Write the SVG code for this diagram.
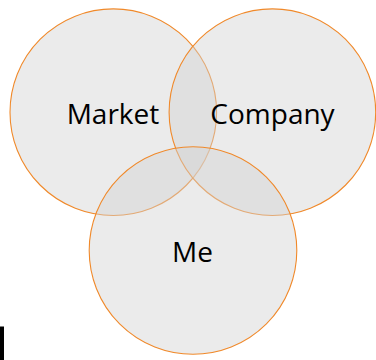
<svg xmlns="http://www.w3.org/2000/svg" width="376" height="360" viewBox="0 0 376 360">
<style>
.c{fill:#d3d3d3;fill-opacity:0.45;stroke:#f0892a;stroke-width:1.1}
.t{font-family:"Open Sans","Noto Sans",sans-serif;font-size:28px;fill:#000;text-anchor:middle}
</style>
<rect width="376" height="360" fill="#fff"/>
<g id="market"><circle class="c" cx="113.3" cy="112.2" r="103.3"/><text class="t" x="113" y="124">Market</text></g>
<g id="company"><circle class="c" cx="272.4" cy="112.2" r="103.3"/><text class="t" x="272.5" y="124">Company</text></g>
<g id="me"><circle class="c" cx="193" cy="250.5" r="103.8"/><text class="t" x="192.5" y="262">Me</text></g>
<g id="connectors"></g>
<rect x="0" y="326.5" width="4" height="33.5" fill="#000"/>
</svg>
